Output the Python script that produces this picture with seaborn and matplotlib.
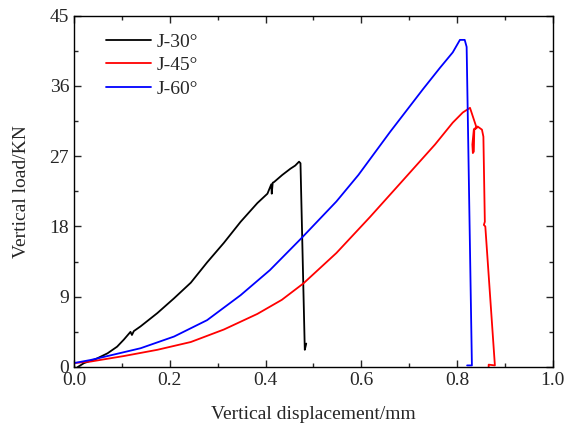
import matplotlib
matplotlib.use("Agg")
import matplotlib.pyplot as plt
from matplotlib.ticker import MultipleLocator
import seaborn as sns
import pandas as pd

# values
j30_x = [0.008, 0.021, 0.045, 0.070, 0.090, 0.104, 0.111, 0.118, 0.121, 0.125, 0.139,
         0.174, 0.209, 0.244, 0.278, 0.313, 0.348, 0.383, 0.404, 0.412, 0.413, 0.415,
         0.418, 0.435, 0.452, 0.462, 0.470, 0.473, 0.482, 0.485]
j30_y = [0.0, 0.5, 1.0, 1.75, 2.6, 3.5, 4.0, 4.5, 4.1, 4.6, 5.2,
         6.9, 8.8, 10.8, 13.4, 15.9, 18.6, 21.0, 22.2, 23.4, 22.2, 23.6,
         23.7, 24.6, 25.4, 25.8, 26.3, 26.1, 2.2, 3.0]

j45_x = [0.0, 0.035, 0.104, 0.174, 0.244, 0.313, 0.383, 0.434, 0.479, 0.548, 0.618,
         0.681, 0.754, 0.791, 0.812, 0.827, 0.841, 0.835, 0.832, 0.833, 0.835, 0.836,
         0.843, 0.852, 0.855, 0.858, 0.856, 0.859, 0.879, 0.866, 0.866]
j45_y = [0.5, 0.7, 1.4, 2.2, 3.2, 4.8, 6.8, 8.6, 10.7, 14.6, 19.2,
         23.5, 28.5, 31.3, 32.6, 33.2, 30.6, 30.4, 28.5, 27.4, 27.6, 30.5,
         30.8, 30.4, 29.5, 18.6, 18.2, 18.0, 0.2, 0.3, 0.0]

j60_x = [0.0, 0.035, 0.070, 0.139, 0.209, 0.278, 0.348, 0.409, 0.475, 0.548, 0.594,
         0.660, 0.729, 0.764, 0.791, 0.806, 0.816, 0.820, 0.823, 0.831, 0.821]
j60_y = [0.5, 0.9, 1.4, 2.4, 3.9, 6.0, 9.2, 12.4, 16.5, 21.2, 24.6,
         30.1, 35.6, 38.3, 40.3, 41.9, 41.9, 41.0, 30.0, 0.2, 0.2]

labels = ["J-30°", "J-45°", "J-60°"]
colors = {"J-30°": "black", "J-45°": "red", "J-60°": "blue"}

frames = []
for lab, xs, ys in zip(labels, [j30_x, j45_x, j60_x], [j30_y, j45_y, j60_y]):
    frames.append(pd.DataFrame({"disp": xs, "load": ys, "specimen": lab}))
df = pd.concat(frames, ignore_index=True)

sns.set_style("ticks")
plt.rcParams["font.family"] = ["Liberation Serif", "DejaVu Serif"]

fig = plt.figure(figsize=(5.67, 4.32), dpi=100)
ax = fig.add_axes([0.1305, 0.1505, 0.8445, 0.8132])

sns.lineplot(data=df, x="disp", y="load", hue="specimen", palette=colors,
             sort=False, estimator=None, linewidth=1.3, ax=ax)

ax.set_xlim(0, 1.0)
ax.set_ylim(0, 45)
ax.xaxis.set_major_locator(MultipleLocator(0.2))
ax.xaxis.set_minor_locator(MultipleLocator(0.1))
ax.yaxis.set_major_locator(MultipleLocator(9))
ax.yaxis.set_minor_locator(MultipleLocator(4.5))
ax.tick_params(which="both", direction="in", top=True, right=True, labelsize=14, width=1)
ax.tick_params(which="major", length=5)
ax.tick_params(which="minor", length=3)
for s in ax.spines.values():
    s.set_linewidth(1)
    s.set_color("black")

ax.set_xlabel("Vertical displacement/mm", fontsize=14, labelpad=12)
ax.set_ylabel("Vertical load/KN", fontsize=14, labelpad=14)

ax.legend(loc="upper left", frameon=False, fontsize=14, handlelength=2.3,
          labelspacing=0.3, handletextpad=0.3, bbox_to_anchor=(0.03, 1.0))

fig.savefig("out.png", dpi=100)
